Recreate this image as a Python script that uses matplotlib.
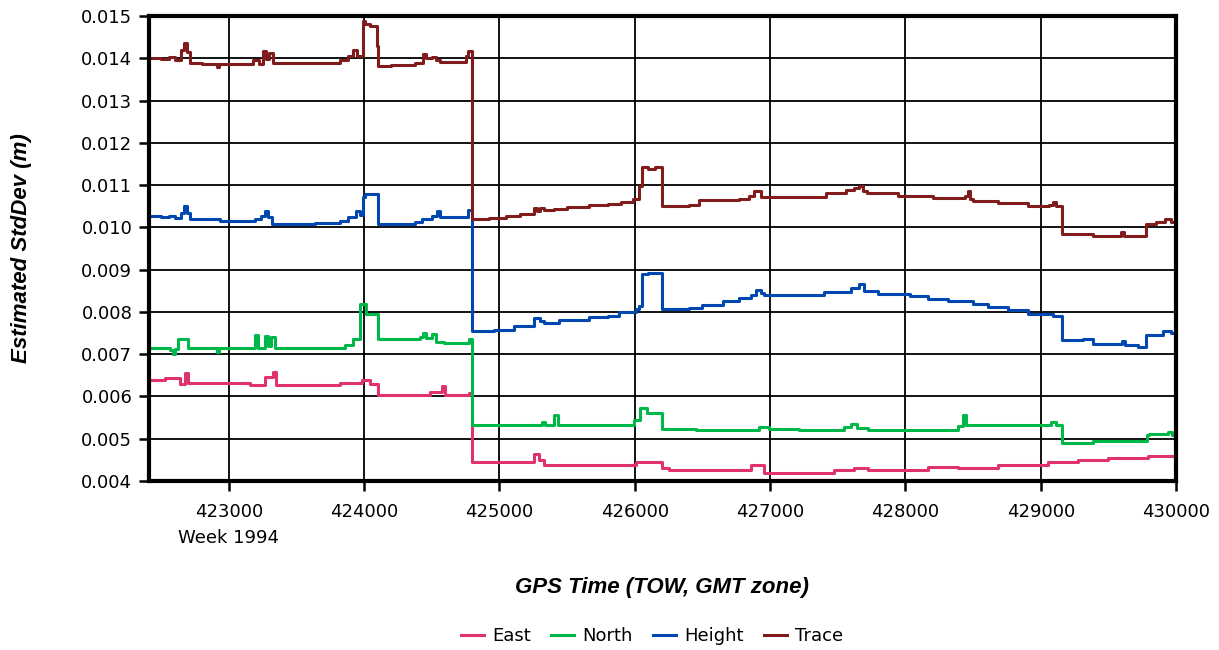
import matplotlib
matplotlib.use("Agg")
import matplotlib.pyplot as plt
import numpy as np

# GPS time of week (s) and estimated standard deviations (m), piecewise-constant samples
trace_t = [422410, 422500, 422560, 422600, 422646, 422668, 422690, 422712, 422800, 422911,
           422925, 423177, 423220, 423250, 423275, 423300, 423330, 423820, 423880, 423915,
           423950, 423990, 424010, 424040, 424095, 424105, 424200, 424373, 424432, 424460,
           424500, 424530, 424557, 424755, 424770, 424800, 424925, 425050, 425150, 425257,
           425280, 425300, 425330, 425400, 425500, 425660, 425800, 425900, 425990, 426030,
           426052, 426100, 426150, 426198, 426400, 426474, 426769, 426843, 426879, 426931,
           427211, 427410, 427558, 427620, 427654, 427690, 427720, 427949, 428207, 428440,
           428465, 428480, 428500, 428686, 428907, 429060, 429090, 429110, 429155, 429387,
           429590, 429615, 429778, 429850, 429918, 429960, 430000]
trace_v = [0.01401, 0.01398, 0.01402, 0.01397, 0.01420, 0.01436, 0.01415, 0.01390, 0.01387, 0.01380,
           0.01387, 0.01395, 0.01386, 0.01418, 0.01398, 0.01412, 0.01388, 0.01395, 0.01405, 0.01420,
           0.01405, 0.01489, 0.01482, 0.01476, 0.01430, 0.01381, 0.01384, 0.01388, 0.01410, 0.01400,
           0.01403, 0.01395, 0.01392, 0.01405, 0.01418, 0.01020, 0.01022, 0.01026, 0.01031, 0.01045,
           0.01038, 0.01046, 0.01040, 0.01043, 0.01047, 0.01052, 0.01056, 0.01059, 0.01066, 0.01098,
           0.01143, 0.01139, 0.01143, 0.01050, 0.01053, 0.01064, 0.01067, 0.01075, 0.01085, 0.01073,
           0.01073, 0.01081, 0.01088, 0.01093, 0.01098, 0.01085, 0.01082, 0.01074, 0.01069, 0.01075,
           0.01087, 0.01068, 0.01062, 0.01058, 0.01050, 0.01052, 0.01061, 0.01050, 0.00985, 0.00979,
           0.00988, 0.00979, 0.01007, 0.01013, 0.01019, 0.01012, 0.01012]

height_t = [422410, 422500, 422560, 422600, 422646, 422668, 422690, 422712, 422934, 423190,
            423240, 423266, 423290, 423317, 423634, 423820, 423880, 423940, 423966, 423990,
            424005, 424100, 424373, 424430, 424500, 424536, 424560, 424770, 424800, 424962,
            425110, 425257, 425300, 425331, 425441, 425662, 425800, 425884, 426009, 426030,
            426052, 426100, 426150, 426198, 426400, 426500, 426650, 426769, 426860, 426894,
            426930, 426953, 427396, 427600, 427654, 427691, 427801, 428037, 428170, 428317,
            428502, 428612, 428760, 428907, 429092, 429155, 429313, 429387, 429497, 429600,
            429620, 429719, 429780, 429903, 429960, 430000]
height_v = [0.01027, 0.01024, 0.01027, 0.01023, 0.01035, 0.01050, 0.01035, 0.01019, 0.01014, 0.01020,
            0.01027, 0.01039, 0.01025, 0.01007, 0.01010, 0.01014, 0.01025, 0.01038, 0.01030, 0.01072,
            0.01078, 0.01007, 0.01012, 0.01020, 0.01026, 0.01038, 0.01025, 0.01040, 0.00754, 0.00758,
            0.00766, 0.00786, 0.00778, 0.00774, 0.00780, 0.00787, 0.00791, 0.00799, 0.00806, 0.00814,
            0.00889, 0.00893, 0.00891, 0.00807, 0.00810, 0.00817, 0.00825, 0.00833, 0.00840, 0.00851,
            0.00845, 0.00841, 0.00847, 0.00856, 0.00865, 0.00849, 0.00843, 0.00837, 0.00831, 0.00825,
            0.00819, 0.00812, 0.00804, 0.00796, 0.00791, 0.00733, 0.00735, 0.00723, 0.00725, 0.00731,
            0.00722, 0.00716, 0.00746, 0.00754, 0.00749, 0.00745]

north_t = [422410, 422565, 422587, 422602, 422624, 422698, 422911, 422930, 423192, 423215,
           423266, 423290, 423310, 423339, 423856, 423915, 423966, 424011, 424100, 424410,
           424432, 424460, 424500, 424530, 424593, 424777, 424800, 425316, 425340, 425405,
           425430, 425994, 426040, 426090, 426198, 426450, 426916, 426990, 427211, 427543,
           427595, 427640, 427727, 428391, 428428, 428450, 429077, 429110, 429155, 429387,
           429785, 429800, 429940, 429970, 430000]
north_v = [0.00715, 0.00711, 0.00701, 0.00712, 0.00735, 0.00715, 0.00705, 0.00715, 0.00746, 0.00715,
           0.00742, 0.00720, 0.00740, 0.00715, 0.00722, 0.00735, 0.00818, 0.00794, 0.00735, 0.00740,
           0.00750, 0.00738, 0.00748, 0.00730, 0.00727, 0.00737, 0.00533, 0.00540, 0.00533, 0.00557,
           0.00533, 0.00545, 0.00573, 0.00561, 0.00524, 0.00521, 0.00528, 0.00524, 0.00521, 0.00528,
           0.00536, 0.00525, 0.00521, 0.00529, 0.00557, 0.00533, 0.00539, 0.00533, 0.00491, 0.00494,
           0.00509, 0.00512, 0.00517, 0.00510, 0.00512]

east_t = [422410, 422528, 422639, 422676, 422698, 423155, 423266, 423324, 423347, 423819,
          423981, 424040, 424100, 424484, 424579, 424600, 424777, 424800, 425257, 425294,
          425331, 426009, 426198, 426250, 426857, 426953, 427469, 427617, 427727, 428170,
          428391, 428686, 429055, 429276, 429497, 429792, 430000]
east_v = [0.00640, 0.00644, 0.00630, 0.00656, 0.00632, 0.00628, 0.00645, 0.00657, 0.00626, 0.00632,
          0.00640, 0.00630, 0.00604, 0.00610, 0.00624, 0.00604, 0.00607, 0.00445, 0.00464, 0.00450,
          0.00438, 0.00446, 0.00431, 0.00427, 0.00438, 0.00420, 0.00425, 0.00430, 0.00427, 0.00434,
          0.00430, 0.00438, 0.00446, 0.00449, 0.00454, 0.00460, 0.00462]

series = [
    ("East", east_t, east_v, "#e0336b"),
    ("North", north_t, north_v, "#00b84a"),
    ("Height", height_t, height_v, "#0048b0"),
    ("Trace", trace_t, trace_v, "#801c1c"),
]

x_ticks = [423000, 424000, 425000, 426000, 427000, 428000, 429000, 430000]
y_ticks = [0.004, 0.005, 0.006, 0.007, 0.008, 0.009, 0.010, 0.011, 0.012, 0.013, 0.014, 0.015]

plt.rcParams["font.family"] = ["DejaVu Sans"]
title_font = dict(family=["Liberation Sans", "DejaVu Sans"], fontsize=16,
                  fontweight="bold", fontstyle="italic")

fig = plt.figure(figsize=(12.19, 6.5), dpi=100)
ax = fig.add_axes([149 / 1219, 1 - 481 / 650, (1176 - 149) / 1219, (481 - 16) / 650])

for name, t, v, c in series:
    ax.plot(t, v, drawstyle="steps-post", color=c, lw=2.2, label=name, zorder=3)

ax.set_xlim(422410, 430000)
ax.set_ylim(0.004, 0.015)
ax.set_xticks(x_ticks)
ax.set_xticklabels([str(x) for x in x_ticks])
ax.set_yticks(y_ticks)
ax.set_yticklabels([f"{y:.3f}" for y in y_ticks])
ax.grid(True, color="black", lw=1.3, zorder=1)
ax.tick_params(axis="both", direction="out", length=7, width=1.8, labelsize=13,
               colors="black", pad=5)
ax.tick_params(axis="x", pad=9)
for s in ax.spines.values():
    s.set_linewidth(3)
    s.set_color("black")
    s.set_zorder(4)

fig.text(228 / 1219, 1 - 538 / 650, "Week 1994", ha="center", va="center", fontsize=13)
fig.text(662 / 1219, 1 - 588 / 650, "GPS Time (TOW, GMT zone)", ha="center", va="center",
         **title_font)
fig.text(22 / 1219, 1 - 248 / 650, "Estimated StdDev (m)", ha="center", va="center",
         rotation=90, **title_font)

fig.legend(loc="center", bbox_to_anchor=(652 / 1219, 1 - 636 / 650), ncol=4, frameon=False,
           fontsize=13, handlelength=1.25, columnspacing=1.15, handletextpad=0.45)

fig.savefig("out.png", dpi=100, facecolor="white")
